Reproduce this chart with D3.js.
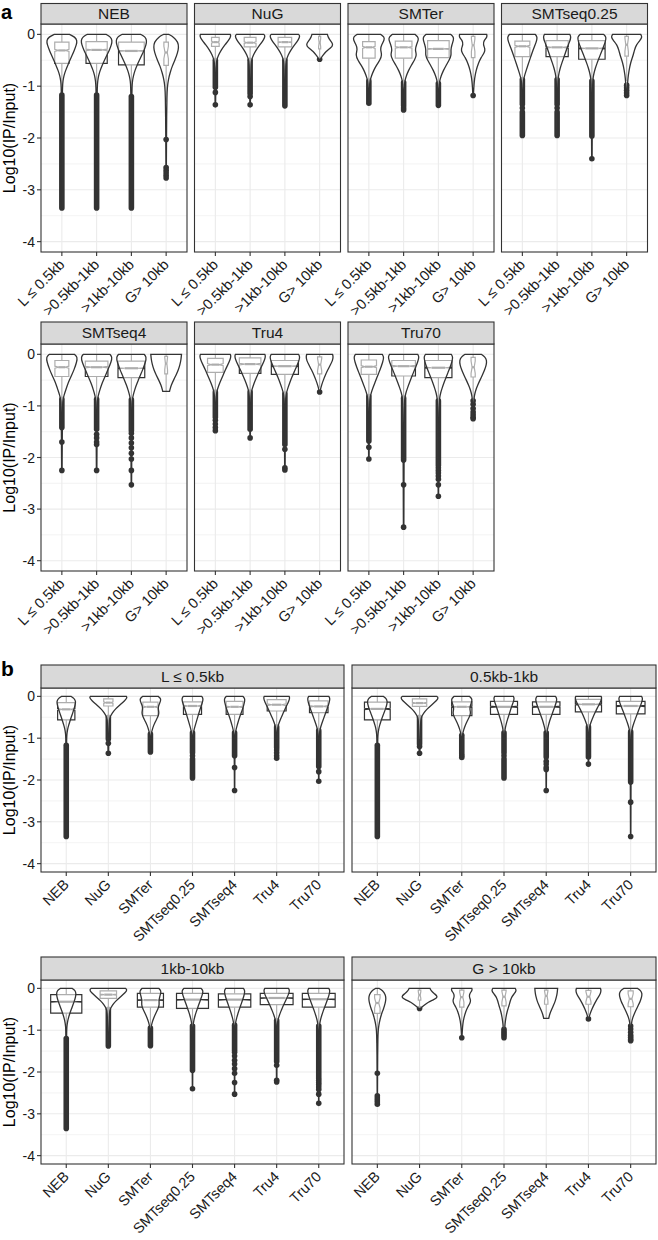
<!DOCTYPE html>
<html><head><meta charset="utf-8">
<script src="https://cdn.jsdelivr.net/npm/d3@7"></script>
<style>body{margin:0;background:#fff} svg{display:block} text{font-family:"Liberation Sans",Arial,Helvetica,sans-serif}</style>
</head><body><svg id="c" width="658" height="1240"></svg>
<script>
// ---------------- DATA ----------------
const methods = ["NEB","NuG","SMTer","SMTseq0.25","SMTseq4","Tru4","Tru70"];
const lengthTicks = ["L \u2264 0.5kb", ">0.5kb-1kb", ">1kb-10kb", "G> 10kb"];
const lengthStrips = ["L \u2264 0.5kb", "0.5kb-1kb", "1kb-10kb", "G > 10kb"];
const yTicks = [0, -1, -2, -3, -4];
const yLimits = [0.2, -4.2];

// rows = methods, columns = length classes
const q3  = [[-0.15,-0.14,-0.15,-0.15],[-0.06,-0.06,-0.06,-0.04],[-0.14,-0.13,-0.12,-0.04],[-0.13,-0.12,-0.12,-0.04],[-0.12,-0.13,-0.13,-0.04],[-0.08,-0.07,-0.12,-0.05],[-0.11,-0.12,-0.12,-0.06]];
const med = [[-0.31,-0.30,-0.32,-0.35],[-0.15,-0.16,-0.15,-0.16],[-0.25,-0.25,-0.28,-0.21],[-0.23,-0.25,-0.27,-0.20],[-0.25,-0.25,-0.27,-0.18],[-0.20,-0.19,-0.23,-0.20],[-0.24,-0.23,-0.26,-0.25]];
const q1  = [[-0.56,-0.56,-0.59,-0.60],[-0.23,-0.24,-0.24,-0.28],[-0.46,-0.46,-0.45,-0.45],[-0.43,-0.43,-0.48,-0.42],[-0.43,-0.43,-0.45,-0.38],[-0.35,-0.37,-0.39,-0.38],[-0.39,-0.42,-0.45,-0.44]];
const whiskerHi = [[0,0,0,0],[0,0,0,0],[0,0,0,0],[0,0,0,0],[0,0,0,0],[0,0,0,0],[0,0,0,0]];
const whiskerLo = [[-1.14,-1.14,-1.17,-1.30],[-0.47,-0.48,-0.48,-0.45],[-0.87,-0.90,-0.92,-1.00],[-0.84,-0.84,-0.87,-0.90],[-0.85,-0.85,-0.86,-0.72],[-0.70,-0.70,-0.74,-0.65],[-0.80,-0.83,-0.87,-0.85]];
const notchHalf = [[0.02,0.015,0.01,0.12],[0.02,0.015,0.01,0.08],[0.02,0.015,0.01,0.12],[0.02,0.015,0.01,0.13],[0.02,0.015,0.01,0.12],[0.02,0.015,0.01,0.12],[0.02,0.015,0.01,0.12]];
const boxWidth = [[0.41,0.61,0.74,0.13],[0.22,0.34,0.39,0.06],[0.36,0.48,0.62,0.10],[0.43,0.64,0.76,0.10],[0.40,0.65,0.77,0.08],[0.45,0.62,0.78,0.12],[0.44,0.68,0.78,0.12]];
const violinPeak = [[0.50,0.51,0.50,0.41],[1.00,0.97,0.97,0.90],[0.55,0.53,0.54,0.50],[0.57,0.53,0.55,0.59],[0.55,0.55,0.53,0.54],[0.69,0.68,0.67,0.60],[0.60,0.62,0.58,0.54]];

// violin outlines: [value, relative width]
const violinNEB = [
 [[0,0.5],[-0.05,0.85],[-0.12,1],[-0.2,0.95],[-0.3,0.82],[-0.4,0.68],[-0.5,0.52],[-0.6,0.38],[-0.7,0.24],[-0.8,0.13],[-0.9,0.07],[-1.0,0.045],[-1.2,0.03],[-2,0.025],[-3.35,0.015]],
 [[0,0.6],[-0.05,0.9],[-0.12,1],[-0.2,0.95],[-0.3,0.82],[-0.4,0.66],[-0.5,0.5],[-0.6,0.35],[-0.7,0.22],[-0.8,0.12],[-0.9,0.07],[-1.0,0.045],[-1.2,0.03],[-2,0.025],[-3.35,0.015]],
 [[0,0.6],[-0.05,0.92],[-0.12,1],[-0.2,0.96],[-0.3,0.84],[-0.4,0.68],[-0.5,0.52],[-0.6,0.36],[-0.7,0.23],[-0.8,0.13],[-0.9,0.07],[-1.0,0.045],[-1.2,0.03],[-2,0.025],[-3.35,0.015]],
 [[0,0.2],[-0.05,0.6],[-0.15,0.95],[-0.25,1],[-0.35,0.92],[-0.5,0.7],[-0.6,0.5],[-0.75,0.3],[-0.87,0.18],[-1,0.1],[-1.2,0.06],[-1.6,0.04],[-2,0.03],[-2.5,0.02],[-2.77,0.01]]];
const violinNuG = [
 [[0,0.95],[-0.03,1],[-0.1,0.88],[-0.2,0.62],[-0.3,0.38],[-0.4,0.2],[-0.5,0.08],[-0.6,0.045],[-1,0.03],[-1.36,0.015]],
 [[0,0.9],[-0.03,1],[-0.1,0.9],[-0.2,0.65],[-0.3,0.4],[-0.4,0.21],[-0.5,0.09],[-0.6,0.05],[-1.2,0.03],[-1.36,0.015]],
 [[0,0.9],[-0.03,1],[-0.1,0.9],[-0.2,0.65],[-0.3,0.4],[-0.4,0.21],[-0.5,0.09],[-0.6,0.05],[-1.2,0.03],[-1.39,0.015]],
 [[0,0.55],[-0.05,0.6],[-0.12,0.75],[-0.2,1],[-0.27,0.75],[-0.33,0.45],[-0.4,0.25],[-0.45,0.12],[-0.48,0.05]]];
const violinSMTer = [
 [[0,0.75],[-0.05,0.98],[-0.1,1],[-0.2,0.82],[-0.28,0.72],[-0.4,0.85],[-0.5,0.7],[-0.6,0.48],[-0.7,0.3],[-0.8,0.17],[-0.9,0.07],[-1,0.04],[-1.33,0.02]],
 [[0,0.75],[-0.05,0.95],[-0.1,1],[-0.2,0.85],[-0.3,0.75],[-0.4,0.88],[-0.5,0.72],[-0.6,0.5],[-0.7,0.32],[-0.8,0.18],[-0.9,0.08],[-1,0.04],[-1.46,0.02]],
 [[0,0.8],[-0.05,0.98],[-0.1,1],[-0.2,0.88],[-0.3,0.8],[-0.4,0.85],[-0.5,0.7],[-0.6,0.5],[-0.7,0.32],[-0.8,0.18],[-0.9,0.08],[-1,0.04],[-1.37,0.02]],
 [[0,0.95],[-0.05,1],[-0.12,0.75],[-0.2,0.7],[-0.28,0.85],[-0.35,0.8],[-0.45,0.55],[-0.55,0.38],[-0.7,0.2],[-0.85,0.1],[-1,0.05],[-1.18,0.02]]];
const violinSMTseq025 = [
 [[0,0.85],[-0.05,1],[-0.15,0.92],[-0.25,0.78],[-0.35,0.65],[-0.48,0.5],[-0.6,0.36],[-0.7,0.25],[-0.8,0.14],[-0.9,0.06],[-1,0.04],[-1.95,0.015]],
 [[0,0.9],[-0.05,1],[-0.15,0.88],[-0.25,0.72],[-0.35,0.6],[-0.45,0.47],[-0.55,0.34],[-0.65,0.22],[-0.75,0.13],[-0.85,0.07],[-1,0.04],[-1.95,0.015]],
 [[0,0.8],[-0.05,1],[-0.15,0.92],[-0.25,0.78],[-0.35,0.64],[-0.45,0.5],[-0.55,0.36],[-0.65,0.24],[-0.75,0.14],[-0.85,0.07],[-1,0.04],[-2.4,0.015]],
 [[0,0.9],[-0.05,1],[-0.12,0.85],[-0.2,0.62],[-0.3,0.5],[-0.42,0.4],[-0.55,0.25],[-0.7,0.15],[-0.85,0.08],[-1,0.05],[-1.18,0.02]]];
const violinSMTseq4 = [
 [[0,0.8],[-0.05,1],[-0.15,0.95],[-0.3,0.78],[-0.4,0.63],[-0.5,0.48],[-0.6,0.35],[-0.7,0.24],[-0.8,0.13],[-0.9,0.06],[-1,0.04],[-2.25,0.015]],
 [[0,0.85],[-0.05,1],[-0.15,0.93],[-0.3,0.72],[-0.4,0.58],[-0.5,0.44],[-0.6,0.3],[-0.7,0.2],[-0.8,0.1],[-0.9,0.05],[-1,0.04],[-2.25,0.015]],
 [[0,0.85],[-0.05,1],[-0.15,0.94],[-0.3,0.75],[-0.4,0.6],[-0.5,0.46],[-0.6,0.32],[-0.7,0.21],[-0.8,0.11],[-0.9,0.05],[-1,0.04],[-2.53,0.015]],
 [[0,1],[-0.1,0.97],[-0.2,0.9],[-0.3,0.8],[-0.4,0.65],[-0.5,0.48],[-0.6,0.33],[-0.68,0.25],[-0.72,0.22]]];
const violinTru4 = [
 [[0,0.95],[-0.03,1],[-0.1,0.95],[-0.2,0.8],[-0.3,0.64],[-0.4,0.5],[-0.5,0.36],[-0.6,0.22],[-0.7,0.11],[-0.8,0.05],[-1,0.035],[-1.48,0.015]],
 [[0,0.95],[-0.03,1],[-0.1,0.95],[-0.2,0.8],[-0.3,0.63],[-0.4,0.48],[-0.5,0.34],[-0.6,0.21],[-0.7,0.1],[-0.8,0.05],[-1,0.035],[-1.62,0.015]],
 [[0,0.9],[-0.05,1],[-0.15,0.9],[-0.25,0.75],[-0.35,0.6],[-0.45,0.45],[-0.55,0.32],[-0.65,0.2],[-0.75,0.1],[-0.85,0.05],[-1,0.035],[-2.24,0.015]],
 [[0,0.95],[-0.05,1],[-0.12,0.95],[-0.2,0.8],[-0.3,0.6],[-0.4,0.42],[-0.5,0.27],[-0.6,0.14],[-0.68,0.06],[-0.73,0.02]]];
const violinTru70 = [
 [[0,0.88],[-0.05,1],[-0.15,0.92],[-0.25,0.8],[-0.35,0.67],[-0.45,0.53],[-0.55,0.4],[-0.65,0.27],[-0.75,0.15],[-0.85,0.07],[-1,0.04],[-2.03,0.015]],
 [[0,0.9],[-0.05,1],[-0.15,0.9],[-0.25,0.77],[-0.35,0.63],[-0.45,0.5],[-0.55,0.37],[-0.65,0.25],[-0.75,0.14],[-0.85,0.07],[-1,0.04],[-3.35,0.015]],
 [[0,0.88],[-0.05,1],[-0.15,0.92],[-0.25,0.8],[-0.35,0.66],[-0.45,0.52],[-0.55,0.38],[-0.65,0.26],[-0.75,0.15],[-0.85,0.08],[-1,0.04],[-2.75,0.015]],
 [[0,0.6],[-0.05,0.88],[-0.12,1],[-0.2,0.97],[-0.3,0.85],[-0.4,0.68],[-0.5,0.5],[-0.6,0.33],[-0.7,0.18],[-0.8,0.09],[-0.9,0.05],[-1.05,0.035],[-1.25,0.015]]];
const violins = [violinNEB, violinNuG, violinSMTer, violinSMTseq025, violinSMTseq4, violinTru4, violinTru70];

// outliers: dense runs [from, to] and single points
const outlierRuns = [
 [[[-1.17,-3.35]], [[-1.17,-3.35]], [[-1.2,-3.35]], []],
 [[[-0.5,-1.02]], [[-0.5,-1.14]], [[-0.5,-1.38]], []],
 [[[-0.9,-1.33]], [[-0.93,-1.38]], [[-0.95,-1.37]], []],
 [[[-0.87,-1.35],[-1.5,-1.95]], [[-0.87,-1.35],[-1.5,-1.95]], [[-0.9,-1.96]], []],
 [[[-0.87,-1.42]], [[-0.87,-1.45]], [[-0.88,-1.48]], []],
 [[[-0.73,-1.22]], [[-0.73,-1.45]], [[-0.77,-1.75]], []],
 [[[-0.82,-1.68]], [[-0.85,-2.05]], [[-0.9,-2.15]], []]];
const outlierPoints = [
 [[], [], [], [-2.03,-2.57,-2.62,-2.67,-2.72,-2.77]],
 [[-1.12,-1.36], [-1.2,-1.36], [], [-0.48]],
 [[], [-1.42,-1.46], [], [-1.18]],
 [[-1.42], [-1.42], [-2.4], [-0.98,-1.03,-1.08,-1.13,-1.18]],
 [[-1.7,-2.25], [-1.55,-1.62,-1.7,-1.75,-2.25], [-1.53,-1.62,-1.72,-1.81,-1.92,-2.03,-2.25,-2.53], []],
 [[-1.28,-1.35,-1.42,-1.48], [-1.62], [-1.84,-2.2,-2.24], [-0.73]],
 [[-1.8,-2.03], [-2.53,-3.35], [-2.2,-2.25,-2.3,-2.36,-2.42,-2.53,-2.75], [-0.9,-0.97,-1.05,-1.12,-1.17,-1.22,-1.25]]];

// ---------------- DRAWING ----------------
const svg = d3.select("#c");
const DARK = "#333333", GRID = "#ebebeb", STRIP = "#d9d9d9";
const R = 2.8;

function drawPanel(cfg) {
  const {x0, x1, sTop, pTop, pBot, strip, groups, labels, yAxis} = cfg;
  const g = svg.append("g");
  const x = d3.scalePoint().domain(d3.range(groups.length)).range([x0, x1]).padding(0.6);
  const step = x.step();
  const y = d3.scaleLinear().domain(yLimits).range([pTop, pBot]);
  g.append("rect").attr("x", x0).attr("y", pTop).attr("width", x1 - x0).attr("height", pBot - pTop).attr("fill", "#fff");
  const minor = d3.pairs(yTicks).map(p => (p[0] + p[1]) / 2);
  g.selectAll(".mn").data(minor).join("line").attr("x1", x0).attr("x2", x1)
    .attr("y1", d => y(d)).attr("y2", d => y(d)).attr("stroke", GRID).attr("stroke-width", 0.6);
  g.selectAll(".mj").data(yTicks).join("line").attr("x1", x0).attr("x2", x1)
    .attr("y1", d => y(d)).attr("y2", d => y(d)).attr("stroke", GRID).attr("stroke-width", 1.1);
  g.selectAll(".vx").data(groups).join("line").attr("x1", (d, i) => x(i)).attr("x2", (d, i) => x(i))
    .attr("y1", pTop).attr("y2", pBot).attr("stroke", GRID).attr("stroke-width", 1.1);

  const maxPeak = d3.max(groups, d => violinPeak[d.m][d.l]);

  groups.forEach((d, i) => {
    const cx = x(i), m = d.m, l = d.l;
    const bw = boxWidth[m][l] * step;
    const xl = cx - bw / 2, xr = cx + bw / 2, nq = bw / 4;
    const nh = notchHalf[m][l], md = med[m][l];
    // whiskers
    g.append("line").attr("x1", cx).attr("x2", cx).attr("y1", y(q3[m][l])).attr("y2", y(whiskerHi[m][l])).attr("stroke", DARK).attr("stroke-width", 1.1);
    g.append("line").attr("x1", cx).attr("x2", cx).attr("y1", y(q1[m][l])).attr("y2", y(whiskerLo[m][l])).attr("stroke", DARK).attr("stroke-width", 1.1);
    // notched box
    const pts = [[xl, y(q3[m][l])], [xr, y(q3[m][l])], [xr, y(md + nh)], [cx + nq, y(md)], [xr, y(md - nh)],
                 [xr, y(q1[m][l])], [xl, y(q1[m][l])], [xl, y(md - nh)], [cx - nq, y(md)], [xl, y(md + nh)]];
    g.append("path").attr("d", "M" + pts.map(p => p.join(",")).join("L") + "Z")
      .attr("fill", "#fff").attr("stroke", DARK).attr("stroke-width", 1.2);
    g.append("line").attr("x1", cx - nq).attr("x2", cx + nq).attr("y1", y(md)).attr("y2", y(md)).attr("stroke", DARK).attr("stroke-width", 2.2);
    // outliers
    outlierRuns[m][l].forEach(r => {
      g.append("rect").attr("x", cx - R).attr("width", 2 * R).attr("y", y(r[0]) - R)
        .attr("height", y(r[1]) - y(r[0]) + 2 * R).attr("rx", R).attr("fill", DARK);
    });
    g.selectAll(null).data(outlierPoints[m][l]).join("circle").attr("cx", cx).attr("cy", v => y(v)).attr("r", R).attr("fill", DARK);
    // violin
    const k = violinPeak[m][l] / maxPeak * 0.9 * step / 2;
    const area = d3.area().y(p => y(p[0])).x0(p => cx - p[1] * k).x1(p => cx + p[1] * k).curve(d3.curveBasis);
    g.append("path").attr("d", area(violins[m][l])).attr("fill", "#fff").attr("fill-opacity", 0.6)
      .attr("stroke", DARK).attr("stroke-width", 1.3);
  });

  // border
  g.append("rect").attr("x", x0).attr("y", pTop).attr("width", x1 - x0).attr("height", pBot - pTop)
    .attr("fill", "none").attr("stroke", DARK).attr("stroke-width", 1.1);
  // strip
  g.append("rect").attr("x", x0).attr("y", sTop).attr("width", x1 - x0).attr("height", pTop - sTop)
    .attr("fill", STRIP).attr("stroke", DARK).attr("stroke-width", 1.1);
  g.append("text").attr("x", (x0 + x1) / 2).attr("y", (sTop + pTop) / 2 + 5.4).attr("text-anchor", "middle")
    .attr("font-size", 15.5).attr("fill", "#1a1a1a").text(strip);
  // x ticks and labels
  groups.forEach((d, i) => {
    const cx = x(i);
    g.append("line").attr("x1", cx).attr("x2", cx).attr("y1", pBot).attr("y2", pBot + 4).attr("stroke", DARK).attr("stroke-width", 1.1);
    g.append("text").attr("transform", `translate(${cx + 3.5},${pBot + 13.5}) rotate(-45)`).attr("text-anchor", "end")
      .attr("font-size", 14.5).attr("fill", "#1a1a1a").text(labels[i]);
  });
  if (yAxis) {
    yTicks.forEach(t => {
      g.append("line").attr("x1", x0 - 4).attr("x2", x0).attr("y1", y(t)).attr("y2", y(t)).attr("stroke", DARK).attr("stroke-width", 1.1);
      g.append("text").attr("x", x0 - 6).attr("y", y(t) + 5).attr("text-anchor", "end").attr("font-size", 14)
        .attr("fill", "#1a1a1a").text(String(t));
    });
    svg.append("text").attr("transform", `translate(15,${(pTop + pBot) / 2}) rotate(-90)`).attr("text-anchor", "middle")
      .attr("font-size", 16).attr("fill", "#000").text("Log10(IP/Input)");
  }
}

// panel a: facets by method, x = length class
const colA = [41, 194.5, 348, 501.5], wA = 146;
const rowsA = [{sTop: 3.5, pTop: 24, pBot: 252}, {sTop: 322, pTop: 344, pBot: 571}];
methods.forEach((mName, m) => {
  const r = rowsA[Math.floor(m / 4)], c = m % 4;
  drawPanel({x0: colA[c], x1: colA[c] + wA, sTop: r.sTop, pTop: r.pTop, pBot: r.pBot, strip: mName,
    groups: lengthTicks.map((_, l) => ({m, l})), labels: lengthTicks, yAxis: c === 0});
});
// panel b: facets by length class, x = method
const colB = [[41, 344], [352, 656]];
const rowsB = [{sTop: 665, pTop: 688, pBot: 872}, {sTop: 957, pTop: 980, pBot: 1164}];
lengthStrips.forEach((lName, l) => {
  const r = rowsB[Math.floor(l / 2)], c = l % 2;
  drawPanel({x0: colB[c][0], x1: colB[c][1], sTop: r.sTop, pTop: r.pTop, pBot: r.pBot, strip: lName,
    groups: methods.map((_, m) => ({m, l})), labels: methods, yAxis: c === 0});
});

svg.append("text").attr("x", 1).attr("y", 18.5).attr("font-size", 20).attr("font-weight", "bold").text("a");
svg.append("text").attr("x", 1).attr("y", 676).attr("font-size", 21).attr("font-weight", "bold").text("b");
</script></body></html>
